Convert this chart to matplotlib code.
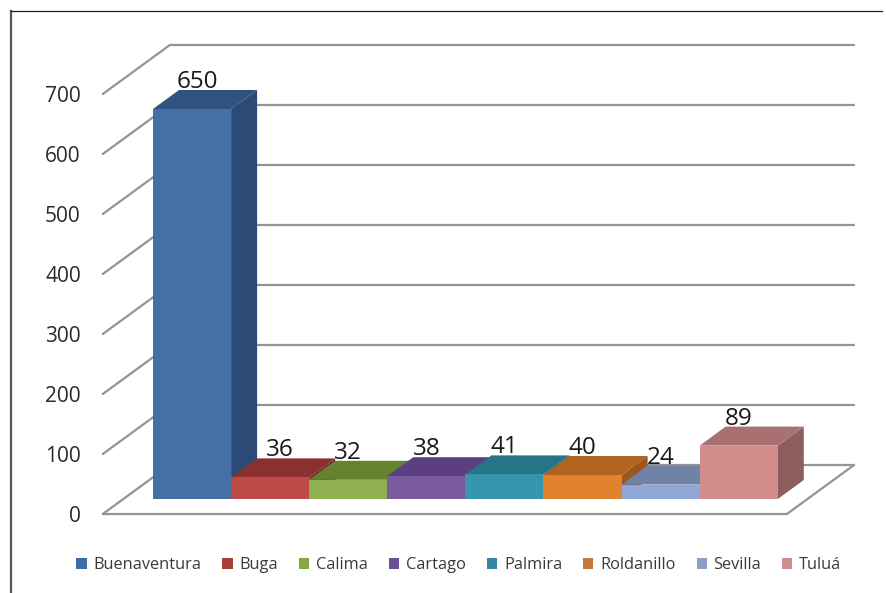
import matplotlib
matplotlib.use("Agg")
import matplotlib.pyplot as plt
from matplotlib.patches import Polygon, Patch
from matplotlib.lines import Line2D

# ---- data ----
categories = ["Buenaventura", "Buga", "Calima", "Cartago", "Palmira", "Roldanillo", "Sevilla", "Tuluá"]
values = [650, 36, 32, 38, 41, 40, 24, 89]
y_ticks = [0, 100, 200, 300, 400, 500, 600, 700]

# ---- style ----
front = ["#4470A5", "#BE4B48", "#8FB04F", "#7A5B9E", "#3795AE", "#E2822F", "#8FA8D8", "#D28C8C"]
top = ["#30527F", "#8A312F", "#64822F", "#5C3F80", "#267488", "#B0641F", "#6F82A8", "#A87070"]
side = ["#2B4A75", "#7C2C2A", "#597429", "#4F3670", "#216777", "#9C581B", "#62749A", "#8E5E5E"]
legend_col = ["#3F6DA8", "#A83E3B", "#86A844", "#6A4F92", "#33869F", "#C8773A", "#8F9FCB", "#CC8F8F"]
label_dx = [5, 10, 0, 0, 0, 0, 0, 0]   # pixel nudges of data labels
GRID = "#949494"
FONT = "Open Sans"
TXT = "#2A2A2A"

W, H = 887, 593
PX_X, PX_Y = 78.1, 0.6      # pixels per category / per value unit
X0_PX, Y0_PX = 153, 499     # pixel position of category 0, value 0 (bar front plane)
DX, DY = 26 / PX_X, 19 / PX_Y  # projection of one bar depth into data units
D_FRONT, D_BACK = -15 / 19, 34 / 19
GAP = 0.38


def proj(x, v, d=0.0):
    return x + d * DX, v + d * DY


fig = plt.figure(figsize=(W / 100, H / 100), dpi=100, facecolor="white")
ax = fig.add_axes([0, 0, 1, 1])
ax.set_xlim(-X0_PX / PX_X, (W - X0_PX) / PX_X)
ax.set_ylim(-(H - Y0_PX) / PX_Y, Y0_PX / PX_Y)
ax.axis("off")

n = len(categories)
xl, xr = -GAP, n + GAP


def seg(p, q, z=1):
    ax.plot([p[0], q[0]], [p[1], q[1]], color=GRID, lw=1.6, zorder=z, solid_capstyle="round")


# walls and floor
for v in y_ticks:
    seg(proj(xl, v, D_FRONT), proj(xl, v, D_BACK))
    seg(proj(xl, v, D_BACK), proj(xr, v, D_BACK))
seg(proj(xl, 0, D_FRONT), proj(xr, 0, D_FRONT))
seg(proj(xr, 0, D_FRONT), proj(xr, 0, D_BACK))

# axis labels
for v in y_ticks:
    x, y = proj(xl, v, D_FRONT)
    ax.annotate(str(v), (x, y), xytext=(-22, -2), textcoords="offset pixels", ha="right", va="center",
                fontsize=15, family=FONT, color=TXT, zorder=8)

# bars, painted left to right
for i, (val, f, t, s) in enumerate(zip(values, front, top, side)):
    a, b = i, i + 1
    ax.add_patch(Polygon([proj(b, 0), proj(b, 0, 1), proj(b, val, 1), proj(b, val)], fc=s, ec="none", zorder=3))
    ax.add_patch(Polygon([proj(a, val), proj(b, val), proj(b, val, 1), proj(a, val, 1)], fc=t, ec="none", zorder=3))
    ax.add_patch(Polygon([proj(a, 0), proj(b, 0), proj(b, val), proj(a, val)], fc=f, ec="none", zorder=3))

# data labels
for i, val in enumerate(values):
    ax.annotate(str(val), (i + 0.5, val), xytext=(label_dx[i], 27), textcoords="offset pixels",
                ha="center", va="center", fontsize=17.5, family=FONT, color="#1A1A1A", zorder=9)

# legend
handles = [Patch(fc=c, ec="none", label=l) for c, l in zip(legend_col, categories)]
leg = ax.legend(handles=handles, ncol=n, loc="center", bbox_to_anchor=(459 / W, 1 - 565 / H),
                bbox_transform=fig.transFigure, frameon=False,
                handlelength=0.62, handleheight=0.62, handletextpad=0.42, columnspacing=1.28,
                labelcolor="#3A3A3A", prop={"family": FONT, "size": 11.8})

# outer picture frame
fig.add_artist(Line2D([11.5 / W, 11.5 / W], [0, 1 - 11 / H], color="#555555", lw=1.6))
fig.add_artist(Line2D([11 / W, 882 / W], [1 - 10.5 / H, 1 - 10.5 / H], color="#222222", lw=0.9))

fig.savefig("out.png", dpi=100, facecolor="white")
